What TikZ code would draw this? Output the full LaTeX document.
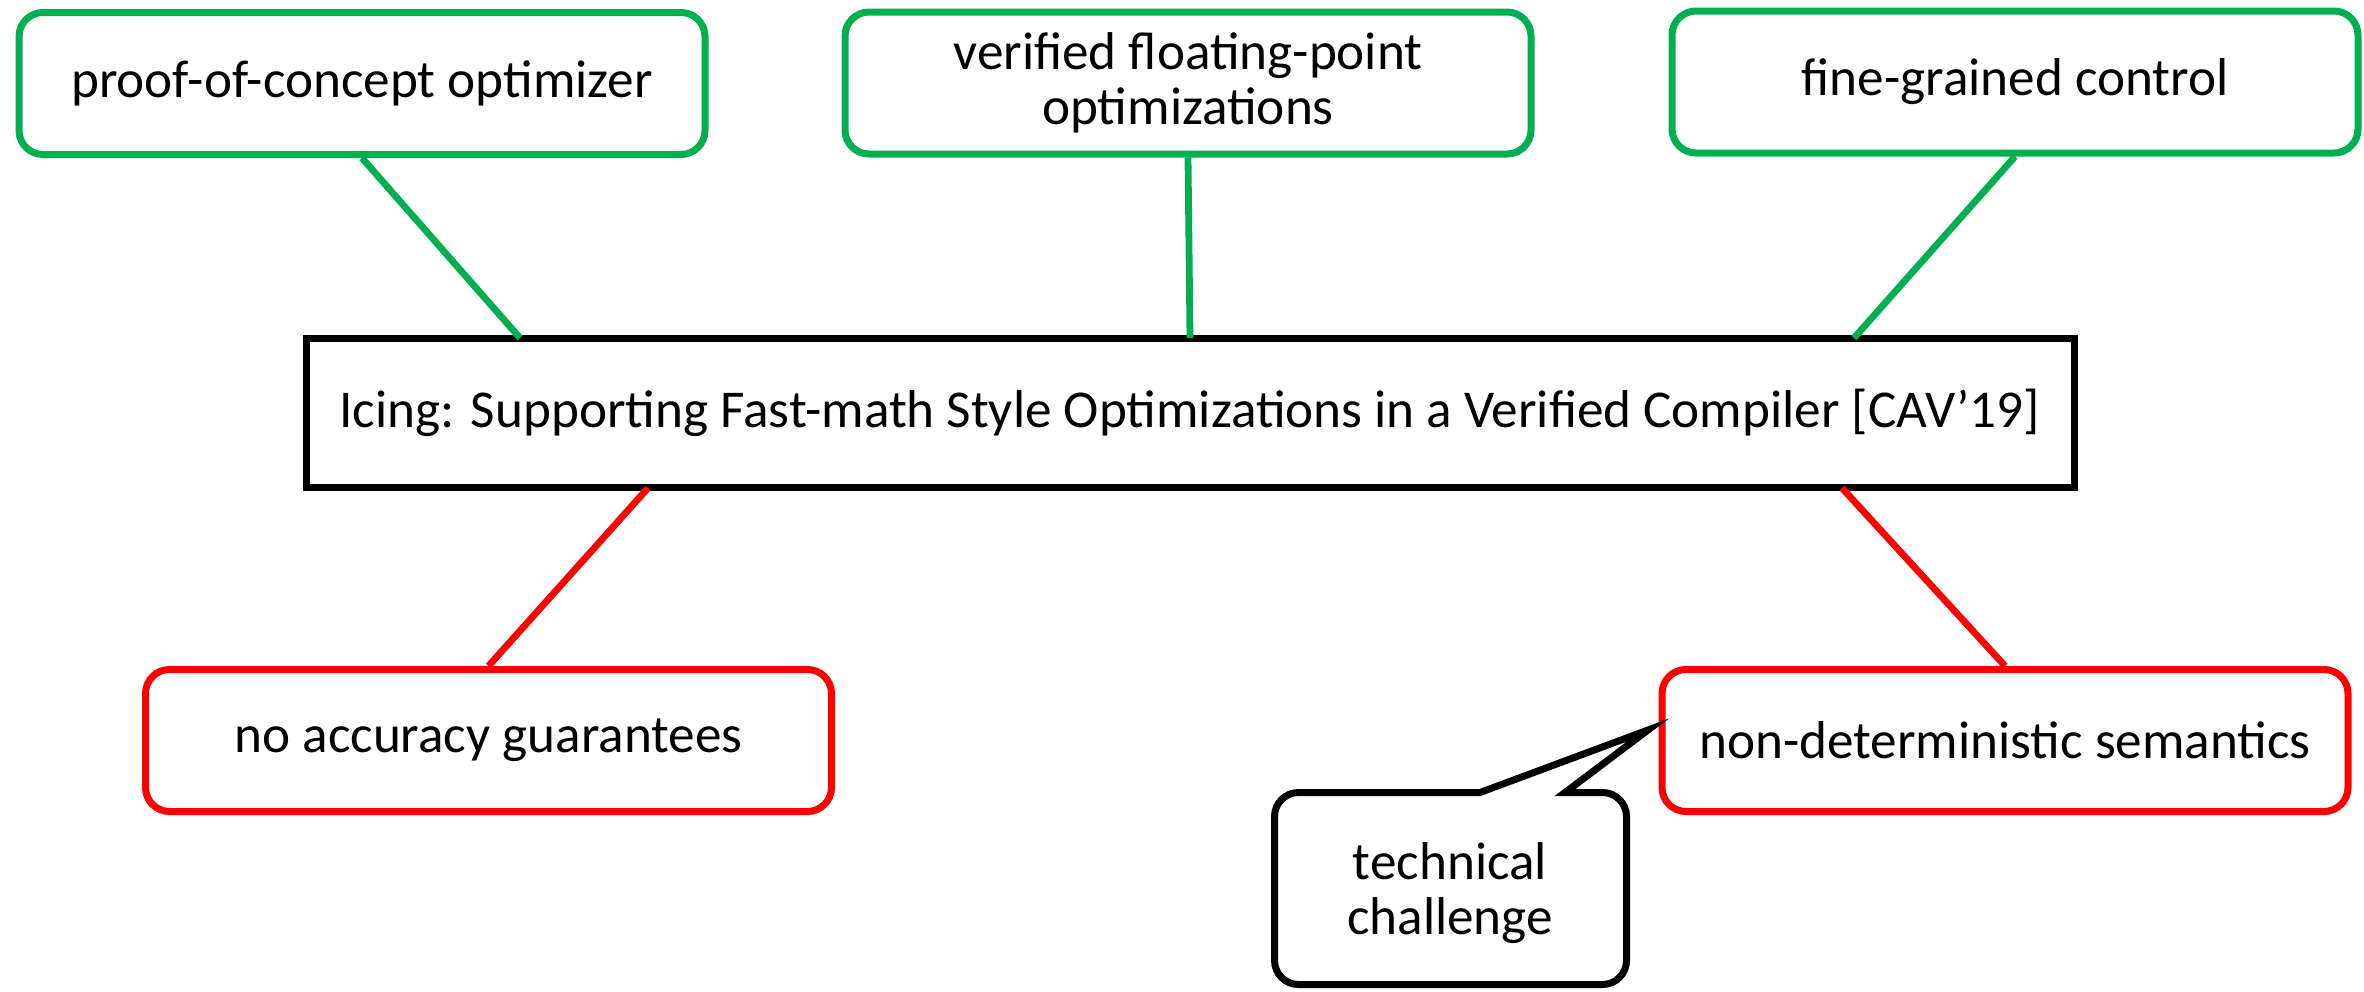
\documentclass[tikz,border=0pt]{standalone}
\usepackage{fontspec}
\setmainfont{Carlito}
\definecolor{okgreen}{RGB}{0,176,80}
\definecolor{badred}{RGB}{255,0,0}
\tikzset{
	idea/.style={draw, line width=3.5pt, rounded corners=12pt, fill=white, minimum width=343pt, minimum height=71pt, align=center, inner sep=0pt},
	pro/.style={idea, draw=okgreen},
	con/.style={idea, draw=badred},
	prolink/.style={okgreen, line width=3.4pt},
	conlink/.style={badred, line width=3.4pt}
}
\begin{document}
\begin{tikzpicture}[x=0.5pt, y=-0.5pt, font=\fontsize{26.6}{27.5}\selectfont]
	\useasboundingbox (0,0) rectangle (2364,991);
	\node[draw, line width=3.5pt, fill=white, minimum width=884pt, minimum height=74.5pt] (paper) at (1190,413) {Icing: Supporting Fast-math Style Optimizations in a Verified Compiler [CAV’19]};
	\node[pro] (poc) at (362,83.5) {proof-of-concept optimizer};
	\node[pro] (verif) at (1188,83) {verified floating-point\\optimizations};
	\node[pro] (fine) at (2015,82) {fine-grained control};
	\node[con] (acc) at (488.5,740.5) {no accuracy guarantees};
	\node[con] (nondet) at (2005,740.5) {non-deterministic semantics};
	\coordinate (pA) at (520,338);
	\coordinate (pB) at (1190,338);
	\coordinate (pC) at (1854,338);
	\coordinate (pD) at (648,488);
	\coordinate (pE) at (1842,488);
	\draw[prolink] (poc.south) -- (pA);
	\draw[prolink] (verif.south) -- (pB);
	\draw[prolink] (fine.south) -- (pC);
	\draw[conlink] (acc.north) -- (pD);
	\draw[conlink] (nondet.north) -- (pE);
	\draw[line width=3.5pt, fill=white] (1380,792.5) -- (1480,792.5) -- (1648,730) -- (1565,792.5) [rounded corners=12pt] -- (1626.5,792.5) -- (1626.5,984.5) -- (1274.5,984.5) -- (1274.5,792.5) -- cycle;
	\node[align=center] (chal) at (1450,893) {technical\\challenge};
\end{tikzpicture}
\end{document}
